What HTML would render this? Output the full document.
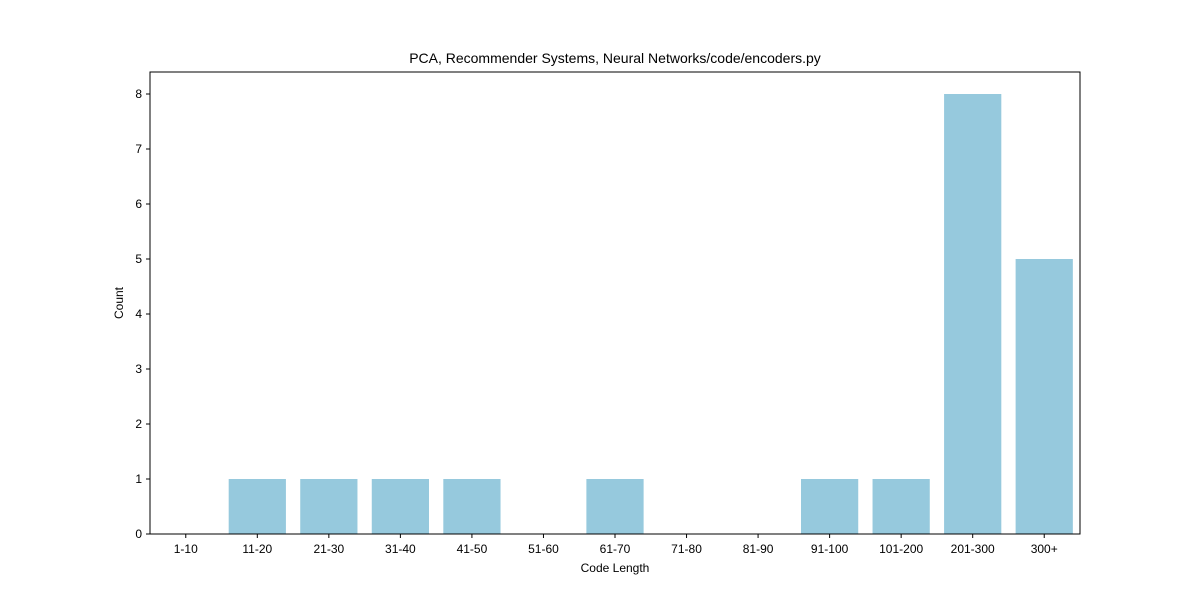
<!DOCTYPE html>
<html><head><meta charset="utf-8"><style>
body{margin:0;background:#fff;}
svg{display:block;font-family:"Liberation Sans","DejaVu Sans",sans-serif;}
</style></head><body>
<svg id="chart" width="1200" height="600">
<text x="615" y="63" text-anchor="middle" font-size="14">PCA, Recommender Systems, Neural Networks/code/encoders.py</text>
<g id="bars"></g><g id="axes"></g>
<rect x="150" y="72" width="930" height="462" fill="none" stroke="#000" stroke-width="1"/>
<text x="615" y="572" text-anchor="middle" font-size="12">Code Length</text>
<text x="123" y="303" text-anchor="middle" font-size="12" transform="rotate(-90 123 303)">Count</text>
</svg>
<script>
const categories=["1-10","11-20","21-30","31-40","41-50","51-60","61-70","71-80","81-90","91-100","101-200","201-300","300+"];
const counts=[0,1,1,1,1,0,1,0,0,1,1,8,5];
const yTicks=[0,1,2,3,4,5,6,7,8];
const L=150,R=1080,T=72,B=534,yMax=8.4;
const step=(R-L)/categories.length;
const x=i=>L+step*(i+0.5);
const y=v=>B-(B-T)*v/yMax;
const ns="http://www.w3.org/2000/svg";
const bars=document.getElementById('bars'),axes=document.getElementById('axes');
function mk(t,a,p){const e=document.createElementNS(ns,t);for(const k in a)e.setAttribute(k,a[k]);p.appendChild(e);return e;}
categories.forEach((c,i)=>{
 const w=step*0.8;
 const r=mk('rect',{x:x(i)-w/2,y:y(counts[i]),width:w,height:B-y(counts[i]),fill:'#96c9dd'},bars);
 
 
 mk('line',{x1:x(i),x2:x(i),y1:B,y2:B+4,stroke:'#000'},axes);
 const t=mk('text',{x:x(i),y:B+19,'text-anchor':'middle','font-size':12},axes);
 t.textContent=c;
 
 
});
yTicks.forEach(v=>{
 mk('line',{x1:L-4,x2:L,y1:y(v),y2:y(v),stroke:'#000'},axes);
 const t=mk('text',{x:L-8,y:y(v)+4,'text-anchor':'end','font-size':12},axes);
 t.textContent=v;
 
 
});
</script>
</body></html>
